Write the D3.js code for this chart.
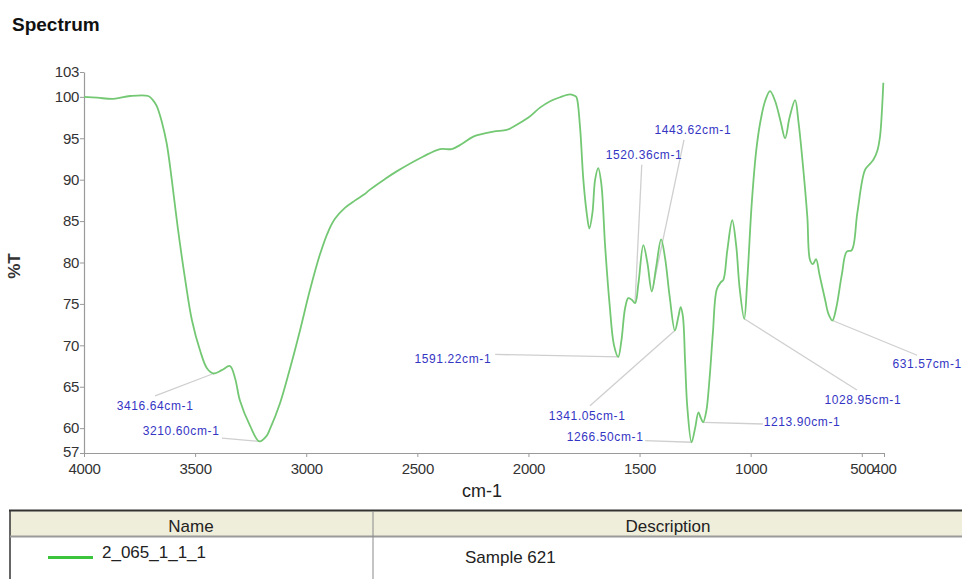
<!DOCTYPE html>
<html>
<head>
<meta charset="utf-8">
<script src="https://cdn.jsdelivr.net/npm/d3@7"></script>
<style>
  body { margin: 0; background: #fff; }
  text { font-family: "Liberation Sans", Arial, sans-serif; }
</style>
</head>
<body>
<script>
// spectrum: wavenumber (cm-1) and %T
const wavenumbers = [
  4000, 3940, 3868, 3793, 3711, 3690, 3673, 3650, 3628, 3605,
  3577, 3545, 3514, 3478, 3446, 3417, 3380, 3343, 3320, 3298,
  3253, 3211, 3180, 3163, 3118, 3073, 3028, 2983, 2938, 2900,
  2870, 2826, 2780, 2740, 2713, 2650, 2593, 2473, 2398, 2345, 2300,
  2248, 2158, 2098, 2068, 2000, 1948, 1900, 1858, 1813, 1790,
  1783, 1768, 1753, 1738, 1726, 1712, 1700, 1686, 1672, 1655,
  1635, 1615, 1596, 1582, 1565, 1551, 1535, 1520, 1505, 1483,
  1465, 1445, 1425, 1403, 1385, 1365, 1341, 1325, 1315, 1305,
  1295, 1285, 1266, 1250, 1235, 1224, 1214, 1200, 1185, 1170,
  1153, 1135, 1123, 1105, 1083, 1065, 1050, 1029, 1015, 995,
  975, 957, 935, 913, 890, 865, 845, 825, 800, 785,
  763, 745, 733, 720, 706, 690, 665, 650, 632, 615,
  590, 568, 545, 520, 485, 460, 448, 430, 418, 410, 403
];
const transmittance = [
  100.0, 99.9, 99.75, 100.1, 100.1, 99.6, 98.9, 97.0, 94.4, 90.0,
  84.0, 78.0, 73.0, 69.4, 67.2, 66.6, 67.0, 67.5, 66.0, 63.3,
  60.3, 58.4, 59.0, 59.9, 63.0, 67.2, 71.8, 76.7, 81.0, 83.8,
  85.3, 86.6, 87.5, 88.2, 88.8, 90.0, 91.0, 92.8, 93.7, 93.7, 94.3,
  95.2, 95.8, 96.0, 96.4, 97.5, 98.7, 99.5, 99.95, 100.3, 100.1,
  99.9, 96.4, 90.0, 86.0, 84.1, 86.0, 90.0, 91.4, 89.5, 82.0,
  75.0, 70.0, 68.6, 70.5, 74.5, 75.7, 75.5, 75.1, 77.5, 82.1,
  80.0, 76.5, 79.5, 82.8, 80.5, 76.0, 71.8, 73.5, 74.6, 73.5,
  68.0, 62.5, 58.3, 60.0, 61.9, 61.2, 60.7, 62.0, 66.0, 71.5,
  76.7, 77.6, 77.9, 81.5, 85.1, 82.0, 77.0, 73.2, 78.0, 87.2,
  93.5, 96.9, 99.5, 100.7, 99.5, 97.0, 95.0, 97.5, 99.6, 97.0,
  91.2, 85.5, 80.3, 79.8, 80.4, 78.5, 75.5, 73.8, 73.0, 74.5,
  78.5, 81.3, 81.5, 86.0, 91.2, 92.0, 92.4, 93.5, 95.2, 98.0, 101.7
];

// picked peaks and where their labels sit (in data units)
const peakLabels = ["3416.64cm-1", "3210.60cm-1", "1591.22cm-1", "1520.36cm-1", "1443.62cm-1",
  "1341.05cm-1", "1266.50cm-1", "1213.90cm-1", "1028.95cm-1", "631.57cm-1"];
const peakWn = [3416.64, 3210.60, 1591.22, 1520.36, 1443.62, 1341.05, 1266.50, 1213.90, 1028.95, 631.57];
const peakT = [66.6, 58.4, 68.6, 75.1, 76.5, 71.8, 58.3, 60.7, 73.2, 73.0];
const labelWn = [3680, 3563, 2340, 1480, 1260, 1736, 1655, 769, 495, 206];
const labelT = [62.7, 59.7, 68.4, 93.0, 96.0, 61.5, 58.9, 60.7, 63.4, 67.8];
const leaderWn = [3680, 3379, 2150, 1490, 1300, 1723, 1475, 945, 522, 251];
const leaderT = [63.9, 58.8, 68.9, 91.8, 94.8, 62.7, 58.5, 60.5, 64.6, 68.8];

const xTicks = [4000, 3500, 3000, 2500, 2000, 1500, 1000, 500, 400];
const yTicks = [57, 60, 65, 70, 75, 80, 85, 90, 95, 100, 103];

const seriesName = "2_065_1_1_1";
const seriesDesc = "Sample 621";

const [width, height] = [962, 579];
const green = "#74c874";

const svg = d3.select("body").append("svg")
  .attr("width", width)
  .attr("height", height);

// title
svg.append("text")
  .attr("x", 12).attr("y", 31)
  .attr("font-size", 19).attr("font-weight", "bold")
  .attr("fill", "#111")
  .text("Spectrum");

const x = d3.scaleLinear().domain([4000, 400]).range([84, 884]);
const y = d3.scaleLinear().domain([57, 103]).range([453, 72]);

// axes
const xAxis = svg.append("g")
  .attr("transform", `translate(0,${y(57)})`)
  .call(d3.axisBottom(x).tickValues(xTicks).tickFormat(d3.format("d")).tickSize(4).tickPadding(6).tickSizeOuter(0));
const yAxis = svg.append("g")
  .attr("transform", `translate(${x(4000)},0)`)
  .call(d3.axisLeft(y).tickValues(yTicks).tickFormat(d3.format("d")).tickSize(4).tickPadding(1).tickSizeOuter(0));

[xAxis, yAxis].forEach(g => {
  g.select(".domain").attr("stroke", "#9a9a9a").attr("stroke-width", 1.2);
  g.selectAll(".tick line").attr("stroke", "#9a9a9a");
  g.selectAll(".tick text")
    .attr("fill", "#333")
    .attr("font-size", 15)
    .attr("font-family", "'Liberation Sans', Arial, sans-serif")
    .attr("letter-spacing", "-0.3px");
});
// the lowest y label sits a touch higher so it clears the first x label
yAxis.selectAll(".tick text").filter(d => d === 57).attr("dy", "0.2em");

// axis titles
svg.append("text")
  .attr("x", 482).attr("y", 497)
  .attr("text-anchor", "middle")
  .attr("font-size", 18).attr("fill", "#222")
  .text("cm-1");

svg.append("text")
  .attr("transform", "translate(14,266) rotate(-90)")
  .attr("text-anchor", "middle")
  .attr("dominant-baseline", "central")
  .attr("font-size", 17).attr("font-weight", "bold").attr("fill", "#333")
  .text("%T");

// leader lines for the peaks
const peaks = peakLabels.map((label, i) => ({
  label, wn: peakWn[i], t: peakT[i],
  lx: labelWn[i], ly: labelT[i], ex: leaderWn[i], ey: leaderT[i]
}));

svg.selectAll("line.leader")
  .data(peaks)
  .enter()
  .append("line")
    .attr("class", "leader")
    .attr("x1", d => x(d.wn))
    .attr("y1", d => y(d.t))
    .attr("x2", d => x(d.ex))
    .attr("y2", d => y(d.ey))
    .attr("stroke", "#cfcfcf")
    .attr("stroke-width", 1.3);

// the spectrum line
const points = wavenumbers.map((w, i) => [w, transmittance[i]]);
const line = d3.line()
  .x(d => x(d[0]))
  .y(d => y(d[1]))
  .curve(d3.curveCatmullRom.alpha(0.5));

svg.append("path")
  .datum(points)
  .attr("d", line)
  .attr("fill", "none")
  .attr("stroke", green)
  .attr("stroke-width", 1.8);

// peak labels
svg.selectAll("text.peak")
  .data(peaks)
  .enter()
  .append("text")
    .attr("class", "peak")
    .attr("x", d => x(d.lx))
    .attr("y", d => y(d.ly))
    .attr("text-anchor", "middle")
    .attr("dominant-baseline", "central")
    .attr("font-size", 12)
    .attr("letter-spacing", "0.6px")
    .attr("fill", "#3535c4")
    .text(d => d.label);

// legend table
const table = svg.append("g");
table.append("rect")
  .attr("x", 10).attr("y", 511)
  .attr("width", width - 10).attr("height", 25)
  .attr("fill", "#efeedb");
table.append("line")
  .attr("x1", 9).attr("x2", width).attr("y1", 510.5).attr("y2", 510.5)
  .attr("stroke", "#333").attr("stroke-width", 2);
table.append("line")
  .attr("x1", 10).attr("x2", 10).attr("y1", 510).attr("y2", height)
  .attr("stroke", "#333").attr("stroke-width", 1.5);
table.append("line")
  .attr("x1", 10).attr("x2", width).attr("y1", 536.5).attr("y2", 536.5)
  .attr("stroke", "#9a9a9a").attr("stroke-width", 2);
table.append("line")
  .attr("x1", 373).attr("x2", 373).attr("y1", 511).attr("y2", height)
  .attr("stroke", "#8a8a8a").attr("stroke-width", 1);

table.append("text")
  .attr("x", 191).attr("y", 532)
  .attr("text-anchor", "middle")
  .attr("font-size", 17).attr("fill", "#222")
  .text("Name");
table.append("text")
  .attr("x", 668).attr("y", 532)
  .attr("text-anchor", "middle")
  .attr("font-size", 17).attr("fill", "#222")
  .text("Description");

table.append("line")
  .attr("x1", 48).attr("x2", 93).attr("y1", 557.5).attr("y2", 557.5)
  .attr("stroke", "#3cc43c").attr("stroke-width", 3);
table.append("text")
  .attr("x", 102).attr("y", 558)
  .attr("font-size", 17).attr("fill", "#222")
  .text(seriesName);
table.append("text")
  .attr("x", 465).attr("y", 563)
  .attr("font-size", 17).attr("fill", "#222")
  .text(seriesDesc);
</script>
</body>
</html>
